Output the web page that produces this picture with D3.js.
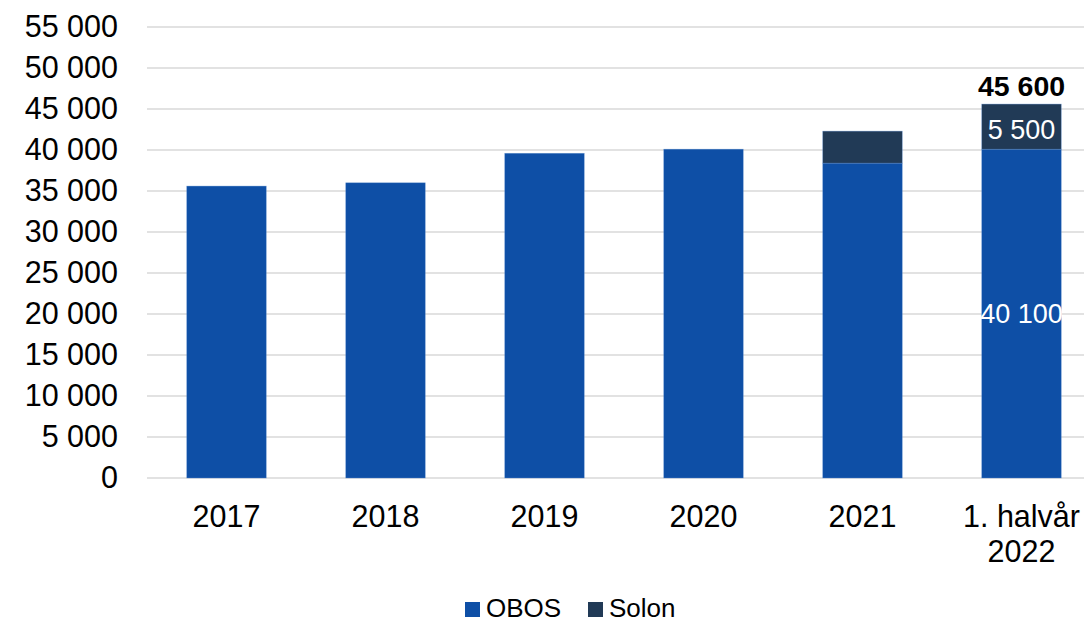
<!DOCTYPE html>
<html>
<head>
<meta charset="utf-8">
<script src="https://cdn.jsdelivr.net/npm/d3@7"></script>
<style>
  html, body { margin: 0; padding: 0; background: #fff; }
  svg { display: block; font-family: "Liberation Sans", Arial, sans-serif; }
</style>
</head>
<body>
<svg id="chart" width="1084" height="623"></svg>
<script>
// Members per year, split by organisation
const categories = ["2017", "2018", "2019", "2020", "2021", "1. halvår\n2022"];
const obos  = [35600, 36000, 39600, 40100, 38400, 40100];
const solon = [0, 0, 0, 0, 3900, 5500];
const yTicks = [0, 5000, 10000, 15000, 20000, 25000, 30000, 35000, 40000, 45000, 50000, 55000];
const seriesNames = ["OBOS", "Solon"];
const seriesColors = ["#0e4fa6", "#213a56"];
// Segment labels are only shown on the latest bar
const labelledIndex = 5;

const locale = d3.formatLocale({ decimal: ",", thousands: " ", grouping: [3], currency: ["", ""] });
const fmt = locale.format(",d");

const svg = d3.select("#chart");
const plotLeft = 147, plotRight = 1101, plotTop = 27, plotBottom = 478;

const x = d3.scaleBand().domain(categories).range([plotLeft, plotRight]).paddingInner(0.5).paddingOuter(0.25);
const y = d3.scaleLinear().domain([0, 55000]).range([plotBottom, plotTop]);

// Horizontal gridlines
svg.append("g")
  .selectAll("line")
  .data(yTicks)
  .join("line")
  .attr("x1", plotLeft).attr("x2", plotRight)
  .attr("y1", d => y(d)).attr("y2", d => y(d))
  .attr("stroke", "#d9d9d9").attr("stroke-width", 1.5);

// Y axis labels
const yAxis = d3.axisLeft(y).tickValues(yTicks).tickFormat(fmt).tickSize(0).tickPadding(29);
const gy = svg.append("g").attr("transform", `translate(${plotLeft},0)`).call(yAxis);
gy.select(".domain").remove();
gy.selectAll("text").attr("font-size", 30.5).attr("fill", "#000").attr("font-family", "Liberation Sans, Arial, sans-serif");

// Stacked bars
const rows = categories.map((c, i) => ({ cat: c, OBOS: obos[i], Solon: solon[i] }));
const stack = d3.stack().keys(seriesNames)(rows);

svg.append("g")
  .selectAll("g")
  .data(stack)
  .join("g")
  .attr("fill", (d, i) => seriesColors[i])
  .selectAll("rect")
  .data(d => d.filter(s => s[1] - s[0] > 0))
  .join("rect")
  .attr("x", d => x(d.data.cat))
  .attr("width", x.bandwidth())
  .attr("y", d => y(d[1]))
  .attr("height", d => y(d[0]) - y(d[1]))
  .attr("stroke", "#5f8fd0").attr("stroke-width", 0.6).attr("stroke-opacity", 0.6);

// Value labels on the latest bar
const lx = x(categories[labelledIndex]) + x.bandwidth() / 2;
const lObos = obos[labelledIndex], lSolon = solon[labelledIndex];
svg.append("text")
  .attr("x", lx).attr("y", y(lObos / 2)).attr("dy", "0.35em")
  .attr("text-anchor", "middle").attr("fill", "#fff").attr("font-size", 27)
  .text(fmt(lObos));
svg.append("text")
  .attr("x", lx).attr("y", y(lObos + lSolon / 2)).attr("dy", "0.45em")
  .attr("text-anchor", "middle").attr("fill", "#fff").attr("font-size", 27)
  .text(fmt(lSolon));
svg.append("text")
  .attr("x", lx).attr("y", y(lObos + lSolon) - 8)
  .attr("text-anchor", "middle").attr("fill", "#000").attr("font-size", 28.5).attr("font-weight", "bold")
  .text(fmt(lObos + lSolon));

// X axis category labels (multi-line)
const gx = svg.append("g");
categories.forEach(c => {
  const t = gx.append("text")
    .attr("x", x(c) + x.bandwidth() / 2)
    .attr("y", 527)
    .attr("text-anchor", "middle").attr("fill", "#000").attr("font-size", 30.5);
  c.split("\n").forEach((line, k) => {
    t.append("tspan").attr("x", x(c) + x.bandwidth() / 2).attr("dy", k === 0 ? 0 : 35).text(line);
  });
});

// Legend
const legendX = [465, 588];
const lg = svg.append("g");
seriesNames.forEach((name, i) => {
  lg.append("rect").attr("x", legendX[i]).attr("y", 602).attr("width", 15).attr("height", 15).attr("fill", seriesColors[i]);
  lg.append("text").attr("x", legendX[i] + 21).attr("y", 617).attr("font-size", 26).attr("fill", "#000").text(name);
});
</script>
</body>
</html>
